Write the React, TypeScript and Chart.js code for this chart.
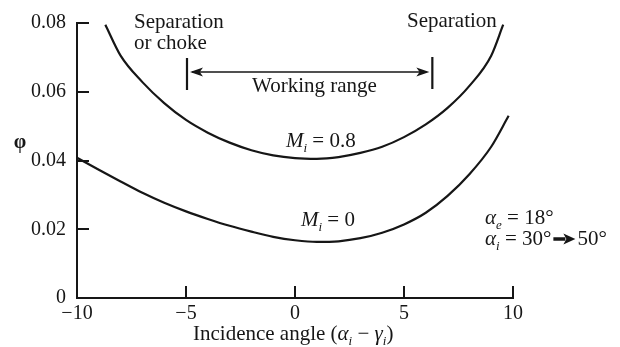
import React, { useEffect, useRef } from "react";
import { Chart, registerables } from "chart.js";

Chart.register(...registerables);

// Incidence angle (deg), flow coefficient phi for inlet Mach 0.8
const incidenceM08 = [-8.7, -8, -7, -6, -5, -4, -3, -2, -1, 0, 1, 2, 3, 4, 5, 6, 7, 8, 9, 9.55];
const phiM08 = [0.0795, 0.0705, 0.0628, 0.0567, 0.0518, 0.0481, 0.0452, 0.0430, 0.0415, 0.0407, 0.0405, 0.0410, 0.0422, 0.0440, 0.0468, 0.0505, 0.0553, 0.0617, 0.0705, 0.0795];

// Incidence angle (deg), flow coefficient phi for inlet Mach 0
const incidenceM0 = [-10, -9, -8, -7, -6, -5, -4, -3, -2, -1, 0, 1, 2, 3, 4, 5, 6, 7, 8, 9, 9.8];
const phiM0 = [0.0408, 0.0373, 0.0339, 0.0306, 0.0277, 0.0252, 0.0230, 0.0210, 0.0193, 0.0178, 0.0168, 0.0163, 0.0165, 0.0174, 0.0190, 0.0214, 0.0248, 0.0297, 0.0360, 0.0440, 0.0530];

const xTicks = [-10, -5, 0, 5, 10];
const yTicks = [0, 0.02, 0.04, 0.06, 0.08];

// Working range limits on the incidence axis
const rangeStart = -5;
const rangeEnd = 6.3;

const SERIF = '"Liberation Serif", "Times New Roman", Times, serif';
const INK = "#161616";

type Part = { t: string; italic?: boolean; sub?: boolean };

function drawRich(ctx: CanvasRenderingContext2D, parts: Part[], x: number, y: number, size: number) {
  let cx = x;
  ctx.textBaseline = "alphabetic";
  ctx.textAlign = "left";
  for (const p of parts) {
    const s = p.sub ? Math.round(size * 0.62) : size;
    ctx.font = `${p.italic ? "italic " : ""}${s}px ${SERIF}`;
    const dy = p.sub ? size * 0.22 : 0;
    ctx.fillText(p.t, cx, y + dy);
    cx += ctx.measureText(p.t).width;
  }
  return cx;
}

function arrowHead(ctx: CanvasRenderingContext2D, tipX: number, y: number, dir: number, len: number, half: number) {
  ctx.beginPath();
  ctx.moveTo(tipX, y);
  ctx.lineTo(tipX - dir * len, y - half);
  ctx.lineTo(tipX - dir * len * 0.75, y);
  ctx.lineTo(tipX - dir * len, y + half);
  ctx.closePath();
  ctx.fill();
}

const annotationPlugin = {
  id: "compressorAnnotations",
  afterDraw(chart: Chart) {
    const ctx = chart.ctx;
    const xs = chart.scales.x;
    const ys = chart.scales.y;
    const area = chart.chartArea;
    ctx.save();
    ctx.fillStyle = INK;
    ctx.strokeStyle = INK;

    // inward tick marks
    ctx.lineWidth = 2;
    for (const v of xTicks) {
      if (v === xs.min) continue;
      const px = Math.round(xs.getPixelForValue(v));
      ctx.beginPath();
      ctx.moveTo(px, area.bottom);
      ctx.lineTo(px, area.bottom - 12);
      ctx.stroke();
    }
    for (const v of yTicks) {
      if (v === ys.min) continue;
      const py = Math.round(ys.getPixelForValue(v));
      ctx.beginPath();
      ctx.moveTo(area.left, py);
      ctx.lineTo(area.left + 12, py);
      ctx.stroke();
    }

    // working range markers and double arrow
    const xa = xs.getPixelForValue(rangeStart);
    const xb = xs.getPixelForValue(rangeEnd);
    ctx.lineWidth = 2.2;
    ctx.beginPath();
    ctx.moveTo(xa + 1, 58);
    ctx.lineTo(xa + 1, 90);
    ctx.moveTo(xb, 57);
    ctx.lineTo(xb, 89);
    ctx.stroke();
    ctx.lineWidth = 1.6;
    ctx.beginPath();
    ctx.moveTo(xa + 6, 72);
    ctx.lineTo(xb - 6, 72);
    ctx.stroke();
    arrowHead(ctx, xa + 4, 72, -1, 13, 4.5);
    arrowHead(ctx, xb - 3, 72, 1, 13, 4.5);

    // texts
    ctx.font = `21px ${SERIF}`;
    ctx.textBaseline = "middle";
    ctx.textAlign = "left";
    ctx.fillText("Separation", 134, 22);
    ctx.fillText("or choke", 134, 43);
    ctx.fillText("Separation", 407, 21);
    ctx.fillText("Working range", 252, 86);

    drawRich(ctx, [{ t: "M", italic: true }, { t: "i", italic: true, sub: true }, { t: " = 0.8" }], 286, 147, 21);
    drawRich(ctx, [{ t: "M", italic: true }, { t: "i", italic: true, sub: true }, { t: " = 0" }], 301, 226, 21);

    drawRich(ctx, [{ t: "α", italic: true }, { t: "e", italic: true, sub: true }, { t: " = 18°" }], 485, 224, 21);
    const endX = drawRich(ctx, [{ t: "α", italic: true }, { t: "i", italic: true, sub: true }, { t: " = 30°" }], 485, 245, 21);
    // bold arrow between the two angles
    ctx.lineWidth = 3.5;
    ctx.beginPath();
    ctx.moveTo(endX + 2, 239);
    ctx.lineTo(endX + 14, 239);
    ctx.stroke();
    arrowHead(ctx, endX + 24, 239, 1, 12, 5.5);
    drawRich(ctx, [{ t: "50°" }], endX + 26, 245, 21);

    // y-axis symbol
    ctx.font = `bold 20px ${SERIF}`;
    ctx.textAlign = "center";
    ctx.textBaseline = "middle";
    ctx.fillText("φ", 20, 143);

    // x-axis title
    drawRich(
      ctx,
      [
        { t: "Incidence angle (" },
        { t: "α", italic: true },
        { t: "i", italic: true, sub: true },
        { t: " − " },
        { t: "γ", italic: true },
        { t: "i", italic: true, sub: true },
        { t: ")" },
      ],
      193,
      340,
      21
    );
    ctx.restore();
  },
};

export default function App() {
  const ref = useRef<HTMLCanvasElement | null>(null);

  useEffect(() => {
    const canvas = ref.current;
    if (!canvas) return;
    const chart = new Chart(canvas, {
      type: "line",
      data: {
        datasets: [
          {
            label: "M = 0.8",
            data: incidenceM08.map((x, i) => ({ x, y: phiM08[i] })),
            borderColor: INK,
            borderWidth: 2.2,
            pointRadius: 0,
            cubicInterpolationMode: "monotone",
            fill: false,
          },
          {
            label: "M = 0",
            data: incidenceM0.map((x, i) => ({ x, y: phiM0[i] })),
            borderColor: INK,
            borderWidth: 2.2,
            pointRadius: 0,
            cubicInterpolationMode: "monotone",
            fill: false,
          },
        ],
      },
      options: {
        animation: false,
        responsive: false,
        devicePixelRatio: 1,
        layout: { padding: { top: 20, right: 107, left: 0, bottom: 0 } },
        plugins: { legend: { display: false }, tooltip: { enabled: false } },
        scales: {
          x: {
            type: "linear",
            min: -10,
            max: 10,
            afterFit: (s: any) => {
              s.height = 49;
            },
            afterBuildTicks: (s: any) => {
              s.ticks = xTicks.map((v) => ({ value: v }));
            },
            grid: { display: false, drawTicks: false },
            border: { display: true, color: INK, width: 2 },
            ticks: {
              color: INK,
              padding: 4,
              maxRotation: 0,
              font: { family: SERIF, size: 20 },
              callback: (v: any) => (Number(v) < 0 ? "\u2212" + Math.abs(Number(v)) : String(v)),
            },
          },
          y: {
            type: "linear",
            min: 0,
            max: 0.08,
            afterFit: (s: any) => {
              s.width = 77;
            },
            afterBuildTicks: (s: any) => {
              s.ticks = yTicks.map((v) => ({ value: v }));
            },
            grid: { display: false, drawTicks: false },
            border: { display: true, color: INK, width: 2 },
            ticks: {
              color: INK,
              padding: 11,
              font: { family: SERIF, size: 20 },
              callback: (v: any) => (Number(v) === 0 ? "0" : Number(v).toFixed(2)),
            },
          },
        },
      },
      plugins: [annotationPlugin],
    });
    return () => chart.destroy();
  }, []);

  return (
    <div style={{ position: "fixed", left: 0, top: 0, width: 620, height: 347, background: "#fff" }}>
      <canvas ref={ref} width={620} height={347} />
    </div>
  );
}
